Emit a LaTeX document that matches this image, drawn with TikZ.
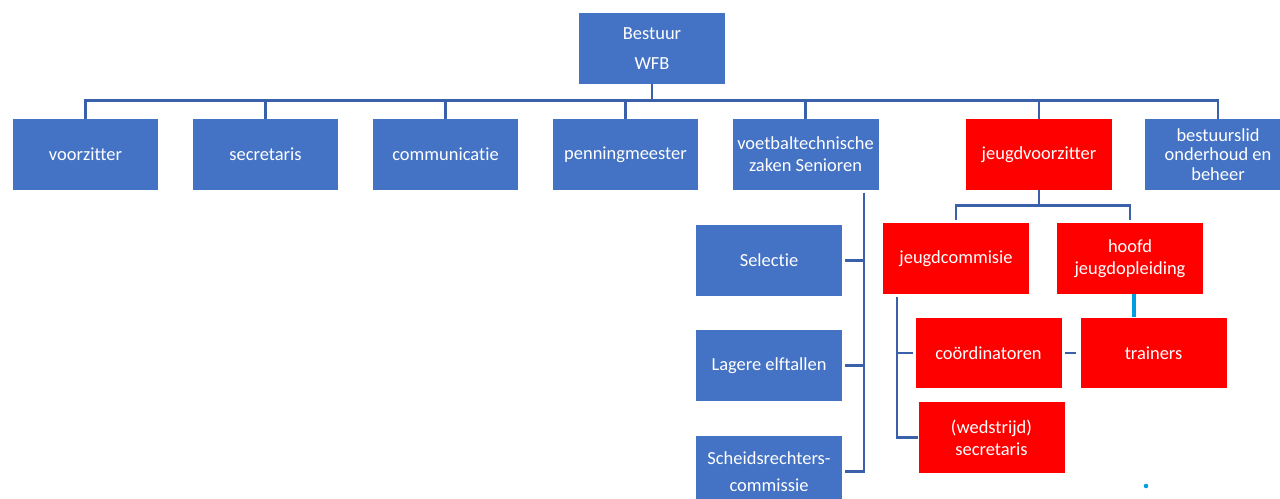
\documentclass[tikz,border=0pt]{standalone}
\usepackage{fontspec}
\setmainfont{Carlito}[Ligatures=NoCommon]
\definecolor{boxblue}{RGB}{68,114,196}
\definecolor{boxred}{RGB}{255,0,0}
\definecolor{lineblue}{RGB}{59,96,170}
\definecolor{linecyan}{RGB}{0,160,222}
\tikzset{
	bluebox/.style={rectangle, fill=boxblue, text=white, minimum width=2.92cm, minimum height=1.42cm, align=center, inner sep=1pt, font=\fontsize{10.5}{12.5}\selectfont},
	redbox/.style={bluebox, fill=boxred},
	link/.style={draw=lineblue, line width=1.6pt},
	cyanlink/.style={draw=linecyan, line width=2.4pt}
}

\begin{document}
\begin{tikzpicture}[x=0.02cm, y=-0.02cm]
	\useasboundingbox (0,0) rectangle (1280,499);
	% bestuur en eerste rij
	\node[bluebox] (bestuur) at (652,48.5) {Bestuur\\[5pt]WFB};
	\node[bluebox] (voorzitter) at (85.5,154.5) {voorzitter};
	\node[bluebox] (secretaris) at (265.5,154.5) {secretaris};
	\node[bluebox] (communicatie) at (445.5,154.5) {communicatie};
	\node[bluebox] (penning) at (625.5,154.5) {penningmeester};
	\node[bluebox] (voetbal) at (805.5,154.5) {voetbaltechnische\\zaken Senioren};
	\node[redbox] (jeugdvz) at (1039,154.5) {jeugdvoorzitter};
	\node[bluebox, font=\fontsize{10.5}{11}\selectfont] (onderhoud) at (1218,154.5) {bestuurslid\\onderhoud en\\beheer};
	\foreach \n in {voorzitter,secretaris,communicatie,penning,voetbal,jeugdvz,onderhoud}
		\draw[link] (bestuur.south) -- ++(0,16) -| (\n.north);
	% senioren
	\node[bluebox] (selectie) at (769,260.5) {Selectie};
	\node[bluebox] (lagere) at (769,365.5) {Lagere elftallen};
	\node[bluebox] (scheids) at (769,471.5) {Scheidsrechters-\\[3pt]commissie};
	\coordinate (vtz) at (864,193);
	\foreach \n in {selectie,lagere,scheids}
		\draw[link] (vtz) |- ([xshift=1.5pt]\n.east);
	% jeugd
	\node[redbox] (jeugdcom) at (956,258.5) {jeugdcommisie};
	\node[redbox] (hoofd) at (1130,258.5) {hoofd\\jeugdopleiding};
	\draw[link] (jeugdvz.south) -- ++(0,15) -| ([yshift=1.5pt]jeugdcom.north);
	\draw[link] (jeugdvz.south) -- ++(0,15) -| ([yshift=1.5pt]hoofd.north);
	\node[redbox] (coord) at (988.5,353) {coördinatoren};
	\node[redbox] (trainers) at (1153.5,353) {trainers};
	\node[redbox] (wedsec) at (991.5,437.5) {(wedstrijd)\\secretaris};
	\coordinate (jc) at (897,297);
	\draw[link] (jc) |- ([xshift=-1.5pt]coord.west);
	\draw[link] (jc) |- (wedsec.west);
	\draw[link, shorten <=1.7pt, shorten >=2.3pt] (coord.east) -- (trainers.west);
	\draw[cyanlink] ([xshift=2.3pt]hoofd.south) -- ([xshift=2.3pt]hoofd.south |- trainers.north);
	\fill[linecyan] (1146,486) circle (1.3pt);
\end{tikzpicture}
\end{document}
